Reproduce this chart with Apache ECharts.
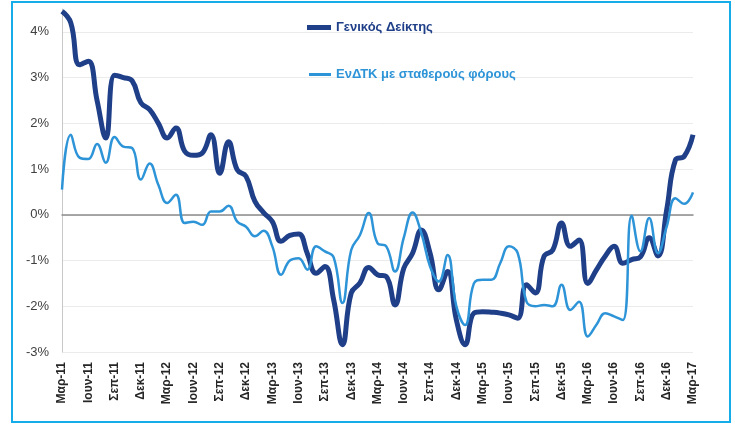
<!DOCTYPE html>
<html>
<head>
<meta charset="utf-8">
<script src="https://cdn.jsdelivr.net/npm/echarts@6/dist/echarts.min.js"></script>
<style>
  html, body { margin: 0; padding: 0; background: #fff; }
  #chart { width: 735px; height: 425px; position: relative; }
  .frame {
    position: absolute; left: 11px; top: 1px; width: 716px; height: 418px;
    border: 2px solid #14ade9; pointer-events: none;
  }
</style>
</head>
<body>
<div id="chart"></div>
<div class="frame"></div>
<script>
// μήνες και έτη του άξονα
const monthNames = ['Μαρ', 'Απρ', 'Μαϊ', 'Ιουν', 'Ιουλ', 'Αυγ', 'Σεπ', 'Οκτ', 'Νοε', 'Δεκ', 'Ιαν', 'Φεβ'];
const startYear = 11;
const monthCount = 73;

// Γενικός Δείκτης (%)
const genikos = [
  4.45, 4.2, 3.28, 3.36, 2.5, 1.68, 3.05, 3.0, 2.93, 2.45,
  2.3, 2.0, 1.68, 1.9, 1.39, 1.3, 1.35, 1.75, 0.91, 1.6,
  0.98, 0.84, 0.3, 0.05, -0.15, -0.58, -0.45, -0.42, -0.85, -1.28,
  -1.13, -1.86, -2.84, -1.71, -1.49, -1.15, -1.31, -1.35, -1.97, -1.17,
  -0.84, -0.33, -0.84, -1.64, -1.24, -2.3, -2.84, -2.15, -2.12, -2.13,
  -2.15, -2.19, -2.26, -1.53, -1.71, -0.91, -0.77, -0.18, -0.69, -0.55,
  -1.5, -1.2, -0.9, -0.69, -1.06, -0.98, -0.92, -0.5, -0.9, 0.11,
  1.2, 1.28, 1.75
];

// ΕνΔΤΚ με σταθερούς φόρους (%)
const endtk = [
  0.55, 1.75, 1.25, 1.22, 1.55, 1.14, 1.7, 1.49, 1.46, 0.77,
  1.12, 0.65, 0.26, 0.44, -0.18, -0.15, -0.22, 0.07, 0.07, 0.2,
  -0.15, -0.26, -0.47, -0.35, -0.69, -1.31, -1.0, -0.95, -1.2, -0.69,
  -0.8, -0.93, -1.93, -0.77, -0.44, 0.04, -0.62, -0.69, -1.24, -0.5,
  0.05, -0.4, -1.13, -1.46, -0.88, -2.0, -2.41, -1.5, -1.42, -1.42,
  -1.06, -0.69, -0.84, -1.9, -2.0, -1.97, -2.0, -1.53, -2.08, -1.9,
  -2.66, -2.4, -2.15, -2.22, -2.3, -0.02, -0.8, -0.07, -0.84, -0.26,
  0.36, 0.24, 0.49
];

// ετικέτες κατηγοριών: Μαρ-11 ... Μαρ-17
const categories = [];
for (let i = 0; i < monthCount; i++) {
  const year = startYear + Math.floor((i + 2) / 12);
  categories.push(monthNames[i % 12] + '-' + year);
}

const darkColor = '#1f3f89';
const lightColor = '#2e94d8';

const chart = echarts.init(document.getElementById('chart'));

const option = {
  backgroundColor: '#fff',
  animation: false,
  grid: { left: 62, right: 42, top: 9, bottom: 73 },
  legend: [
    {
      data: ['Γενικός Δείκτης'],
      left: 302, top: 16,
      icon: 'rect', itemWidth: 24, itemHeight: 5, itemGap: 0,
      textStyle: { color: darkColor, fontSize: 13, fontWeight: 'bold', fontFamily: 'Liberation Sans, Arial' }
    },
    {
      data: ['ΕνΔΤΚ με σταθερούς φόρους'],
      left: 304, top: 63,
      icon: 'rect', itemWidth: 22, itemHeight: 3, itemGap: 0,
      textStyle: { color: lightColor, fontSize: 13, fontWeight: 'bold', fontFamily: 'Liberation Sans, Arial' }
    }
  ],
  xAxis: [
    {
      type: 'category',
      data: categories,
      boundaryGap: false,
      position: 'bottom',
      axisLine: { show: false, onZero: false },
      axisTick: { show: false },
      axisLabel: {
        interval: 2,
        rotate: 90,
        margin: 10,
        padding: [8, 0, 0, 0],
        color: '#262626',
        fontSize: 12,
        fontWeight: 'bold',
        fontFamily: 'Liberation Sans, Arial'
      },
      splitLine: { show: false }
    },
    {
      // γραμμή του μηδενός
      type: 'category',
      data: categories,
      boundaryGap: false,
      position: 'bottom',
      axisLine: { show: true, onZero: true, lineStyle: { color: '#8c8c8c', width: 1.5 } },
      axisTick: { show: false },
      axisLabel: { show: false },
      splitLine: { show: false }
    }
  ],
  yAxis: {
    type: 'value',
    min: -3,
    max: 4.5,
    interval: 1,
    axisLine: { show: true, lineStyle: { color: '#c8c8c8' } },
    axisTick: { show: false },
    axisLabel: {
      margin: 13,
      showMaxLabel: false,
      color: '#404040',
      fontSize: 13,
      fontFamily: 'Liberation Sans, Arial',
      formatter: v => (Number.isInteger(v) ? v + '%' : '')
    },
    splitLine: { show: true, showMaxLine: false, lineStyle: { color: '#ebebeb', width: 1 } }
  },
  series: [
    {
      name: 'Γενικός Δείκτης',
      type: 'line',
      data: genikos,
      smooth: 0.45,
      symbol: 'none',
      lineStyle: { color: darkColor, width: 5 },
      itemStyle: { color: darkColor }
    },
    {
      name: 'ΕνΔΤΚ με σταθερούς φόρους',
      type: 'line',
      data: endtk,
      smooth: 0.45,
      symbol: 'none',
      lineStyle: { color: lightColor, width: 2.5 },
      itemStyle: { color: lightColor }
    }
  ]
};

chart.setOption(option);
</script>
</body>
</html>
